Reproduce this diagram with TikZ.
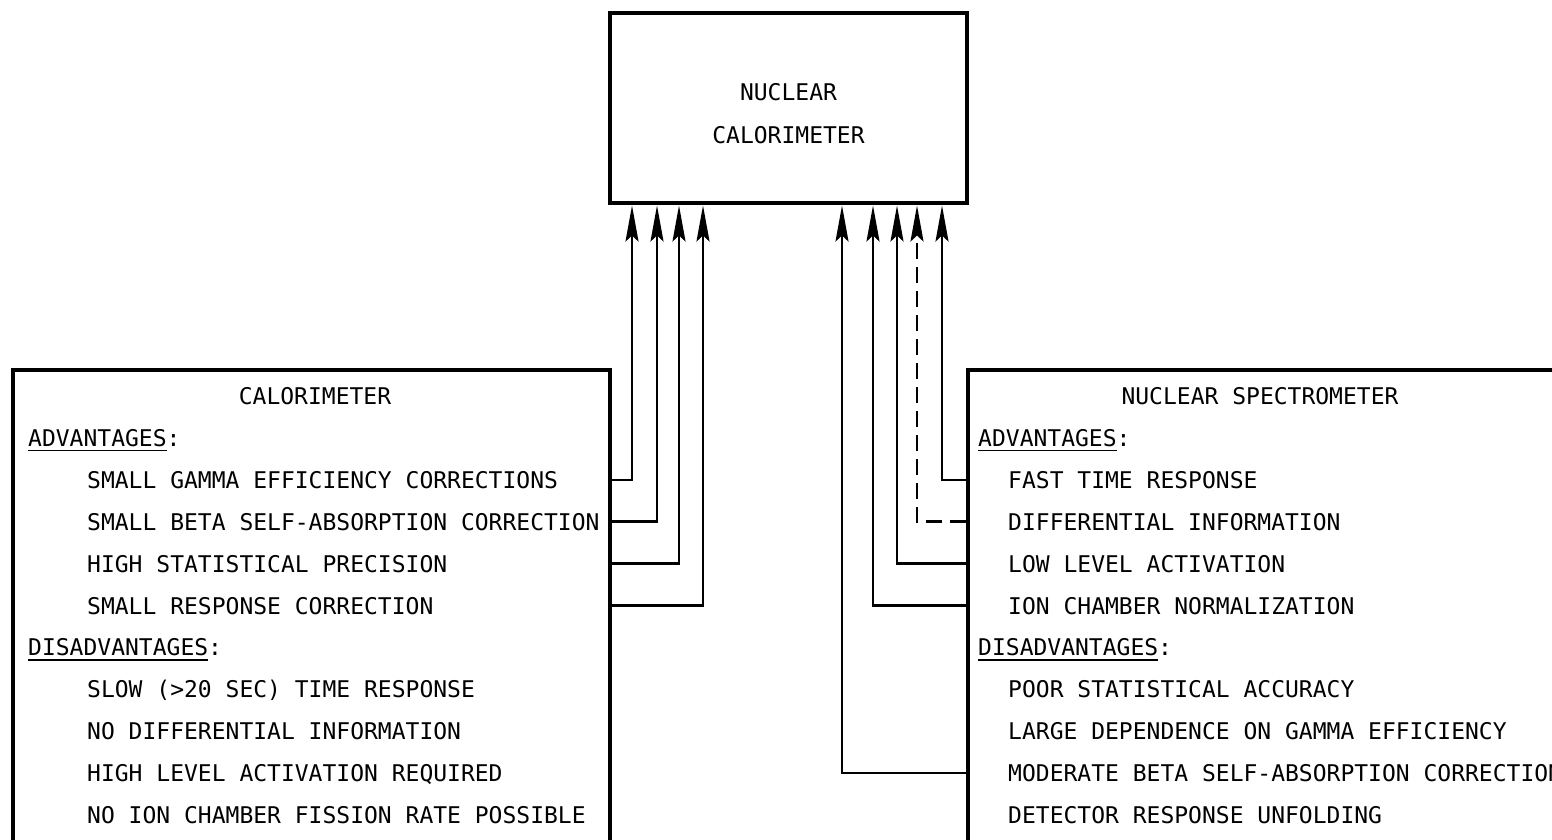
\documentclass[tikz,border=0pt]{standalone}
\usepackage{fontspec}
\usetikzlibrary{arrows.meta}
\newfontfamily\typ{DejaVu Sans Mono}
\newcommand\myul[1]{\setbox0\hbox{#1}\rlap{\rule[-5pt]{\wd0}{1.8pt}}\box0}
\begin{document}
\begin{tikzpicture}[x=1pt,y=-1pt,
  box/.style={draw, line width=3.5pt, inner sep=0pt},
  txt/.style={font={\typ\fontsize{23}{27}\selectfont}, inner sep=0pt, text height=17pt, text depth=0pt},
  lft/.style={txt, anchor=west},
  arr/.style={line width=2.6pt, line join=miter, -{Stealth[length=36pt,width=13pt,inset=6pt]}},
  dsh/.style={dash pattern=on 16pt off 8pt}]
\useasboundingbox (0,0) rectangle (1552,839);
\clip (0,0) rectangle (1552,839);

% boxes
\node[box, minimum width=357pt, minimum height=190pt] (nc) at (788.5,108) {};
\node[box, minimum width=597pt, minimum height=500pt] (cal) at (311.5,620) {};
\node[box, minimum width=602pt, minimum height=500pt] (spec) at (1269,620) {};

% top box text
\node[txt] (nc1) at (788.5,92) {NUCLEAR};
\node[txt] (nc2) at (788.5,135) {CALORIMETER};

% left box text
\node[txt] (lt) at (315,396) {CALORIMETER};
\node[lft] (lh1) at (28,437.9) {\myul{ADVANTAGES}:};
\node[lft] (la1) at (87,479.8) {SMALL GAMMA EFFICIENCY CORRECTIONS};
\node[lft] (la2) at (87,521.7) {SMALL BETA SELF-ABSORPTION CORRECTION};
\node[lft] (la3) at (87,563.6) {HIGH STATISTICAL PRECISION};
\node[lft] (la4) at (87,605.5) {SMALL RESPONSE CORRECTION};
\node[lft] (lh2) at (28,647.4) {\myul{DISADVANTAGES}:};
\node[lft] (ld1) at (87,689.3) {SLOW (>20 SEC) TIME RESPONSE};
\node[lft] (ld2) at (87,731.2) {NO DIFFERENTIAL INFORMATION};
\node[lft] (ld3) at (87,773.1) {HIGH LEVEL ACTIVATION REQUIRED};
\node[lft] (ld4) at (87,815) {NO ION CHAMBER FISSION RATE POSSIBLE};

% right box text
\node[txt] (rt) at (1260,396) {NUCLEAR SPECTROMETER};
\node[lft] (rh1) at (978,437.9) {\myul{ADVANTAGES}:};
\node[lft] (ra1) at (1008,479.8) {FAST TIME RESPONSE};
\node[lft] (ra2) at (1008,521.7) {DIFFERENTIAL INFORMATION};
\node[lft] (ra3) at (1008,563.6) {LOW LEVEL ACTIVATION};
\node[lft] (ra4) at (1008,605.5) {ION CHAMBER NORMALIZATION};
\node[lft] (rh2) at (978,647.4) {\myul{DISADVANTAGES}:};
\node[lft] (rd1) at (1008,689.3) {POOR STATISTICAL ACCURACY};
\node[lft] (rd2) at (1008,731.2) {LARGE DEPENDENCE ON GAMMA EFFICIENCY};
\node[lft] (rd3) at (1008,773.1) {MODERATE BETA SELF-ABSORPTION CORRECTION};
\node[lft] (rd4) at (1008,815) {DETECTOR RESPONSE UNFOLDING};

% arrow tip points on the top box
\coordinate (tL1) at (632,205.5);
\coordinate (tL2) at (657,205.5);
\coordinate (tL3) at (679,205.5);
\coordinate (tL4) at (703,205.5);
\coordinate (tR1) at (842,205.5);
\coordinate (tR2) at (873,205.5);
\coordinate (tR3) at (897,205.5);
\coordinate (tR4) at (917,205.5);
\coordinate (tR5) at (942,205.5);

% connectors
\draw[arr] (la1 -| cal.east) -| (tL1);
\draw[arr] (la2 -| cal.east) -| (tL2);
\draw[arr] (la3 -| cal.east) -| (tL3);
\draw[arr] (la4 -| cal.east) -| (tL4);
\draw[arr] (ra1 -| spec.west) -| (tR5);
\draw[arr, dsh] (ra2 -| spec.west) -| (tR4);
\draw[arr] (ra3 -| spec.west) -| (tR3);
\draw[arr] (ra4 -| spec.west) -| (tR2);
\draw[arr] (rd3 -| spec.west) -| (tR1);
\end{tikzpicture}
\end{document}
